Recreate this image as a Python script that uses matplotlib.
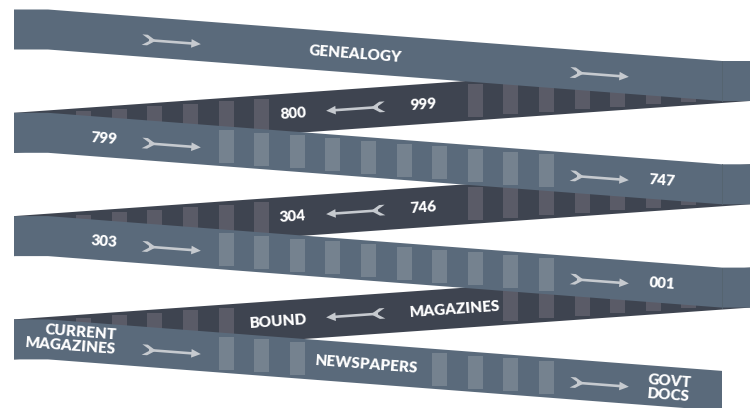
import numpy as np
import matplotlib
matplotlib.use('Agg')
import matplotlib.pyplot as plt
from matplotlib.patches import Polygon, Rectangle

# ---------------- data ----------------
# light (front) rows, read left -> right
light_text = [
    ["GENEALOGY"],
    ["799", "747"],
    ["303", "001"],
    ["CURRENT\nMAGAZINES", "NEWSPAPERS", "GOVT\nDOCS"],
]
light_text_x = [
    [355],
    [104, 662],
    [104, 662],
    [116, 367, 669],
]
# dark (back) rows, read right -> left
dark_text = [
    ["800", "999"],
    ["304", "746"],
    ["BOUND", "MAGAZINES"],
]
dark_text_x = [
    [293, 423],
    [293, 423],
    [278, 455],
]
# shelf slots present in each row
light_shelves = [
    [],
    [5, 6, 7, 8, 9, 10, 11, 12, 13, 14],
    [5, 6, 7, 8, 9, 10, 11, 12, 13, 14],
    [5, 6, 7, 11, 12, 13, 14],
]
dark_shelves = [
    [1, 2, 3, 4, 5, 6, 12, 13, 14, 15, 16, 17, 18],
    [1, 2, 3, 4, 5, 6, 12, 13, 14, 15, 16, 17, 18],
    [1, 2, 3, 4, 5, 13, 14, 15, 16, 17, 18],
]
light_arrow_tails = [142, 570]
dark_arrow_tails = [385]

# ---------------- style / layout ----------------
C_LIGHT = '#5a6a7b'
C_DARK = '#3e4450'
C_LSHELF = '#75828f'
C_DSHELF = '#5a5b67'
C_ARROW = '#c6cacf'
C_FOLD = '#55636f'

W, H = 750, 408
XL, XF, XR = 14, 48, 722     # left edge, end of left flat, fold
XE = 750                     # right edge
BH = 40                      # band height
DROP = 51.5                  # vertical drop of a light band
PERIOD = 103.3
Y0 = [9.5 + PERIOD * k for k in range(4)]
SL = DROP / (XR - XF)
FONT = ['Lato', 'DejaVu Sans']
FS = 11
FW = 'heavy'

fig = plt.figure(figsize=(W / 100, H / 100), dpi=100)
ax = fig.add_axes([0, 0, 1, 1])
ax.set_xlim(0, W)
ax.set_ylim(H, 0)
ax.axis('off')


def light_top(k, x):
    x = min(max(x, XF), XR)
    return Y0[k] + SL * (x - XF)


def dark_top(j, x):
    yl = Y0[j + 1]
    yr = Y0[j] + DROP
    return yl + (yr - yl) * (x - XL) / (XE - XL)


def arrow(x_tail, yc, ang, color=C_ARROW, z=6):
    L = 59.0
    parts = [
        [(7, -1.3), (51, -1.3), (51, 1.3), (7, 1.3)],
        [(49.5, -4.3), (L, 0), (49.5, 4.3)],
        [(0, -5.3), (5.5, -5.3), (13, -0.6), (7.5, -0.6)],
        [(0, 5.3), (5.5, 5.3), (13, 0.6), (7.5, 0.6)],
    ]
    c, s = np.cos(ang), np.sin(ang)
    cx = x_tail + c * L / 2
    for p in parts:
        pts = []
        for u, v in p:
            uu = u - L / 2
            pts.append((cx + uu * c - v * s, yc + uu * s + v * c))
        ax.add_patch(Polygon(pts, closed=True, fc=color, ec='none', zorder=z))


# dark bands
for j in range(3):
    pts = [(XL, dark_top(j, XL)), (XE, dark_top(j, XE)),
           (XE, dark_top(j, XE) + BH), (XL, dark_top(j, XL) + BH)]
    ax.add_patch(Polygon(pts, closed=True, fc=C_DARK, ec='none', zorder=1))
    for n in dark_shelves[j]:
        xl = 40.5 + 35.6 * n
        top = dark_top(j, xl + 7.5) + 3.5
        ax.add_patch(Rectangle((xl, top), 15, 33, fc=C_DSHELF, ec='none', zorder=2))
    ang = np.arctan2(dark_top(j, XE) - dark_top(j, XL), XE - XL)
    for xt in dark_arrow_tails:
        yc = dark_top(j, xt - 29) + BH / 2
        arrow(xt, yc, ang + np.pi, z=3)
    rot = np.degrees(np.arctan2(dark_top(j, XL) - dark_top(j, XE), XE - XL))
    for t, x in zip(dark_text[j], dark_text_x[j]):
        y = dark_top(j, x) + BH / 2 + 0.5
        ax.text(x, y, t, color='white', fontsize=FS, fontweight=FW,
                family=FONT, ha='center', va='center', rotation=rot,
                rotation_mode='anchor', zorder=3)

# light bands
for k in range(4):
    y = Y0[k]
    if k < 3:
        pts = [(XL, y), (XF, y), (XR, y + DROP), (XE, y + DROP),
               (XE, y + DROP + BH), (XR, y + DROP + BH), (XF, y + BH), (XL, y + BH)]
    else:
        pts = [(XL, y), (XF, y), (XR, y + DROP),
               (XR, y + DROP + BH), (XF, y + BH), (XL, y + BH)]
    ax.add_patch(Polygon(pts, closed=True, fc=C_LIGHT, ec='none', zorder=4))
    if k < 3:
        ax.plot([XR, XR], [y + DROP, y + DROP + BH], color=C_FOLD, lw=0.6, zorder=4.5)
    for n in light_shelves[k]:
        xl = 40.5 + 35.6 * n
        top = light_top(k, xl + 7.5) + 3.5
        ax.add_patch(Rectangle((xl, top), 15, 33, fc=C_LSHELF, ec='none', zorder=5))
    ang = np.arctan(SL)
    for xt in light_arrow_tails:
        yc = light_top(k, xt + 29) + BH / 2 + 3
        arrow(xt, yc, ang, z=6)
    rot = -np.degrees(ang)
    for t, x in zip(light_text[k], light_text_x[k]):
        if t.startswith('CURRENT'):
            ha = 'right'
            yy = light_top(k, x) + BH / 2 - 2.5
        else:
            ha = 'center'
            yy = light_top(k, x) + BH / 2 + 1
        ax.text(x, yy, t, color='white', fontsize=FS, fontweight=FW,
                family=FONT, ha=ha, va='center', multialignment=ha,
                rotation=rot, rotation_mode='anchor', linespacing=1.12,
                zorder=7)

fig.savefig('out.png', dpi=100, facecolor='white')
